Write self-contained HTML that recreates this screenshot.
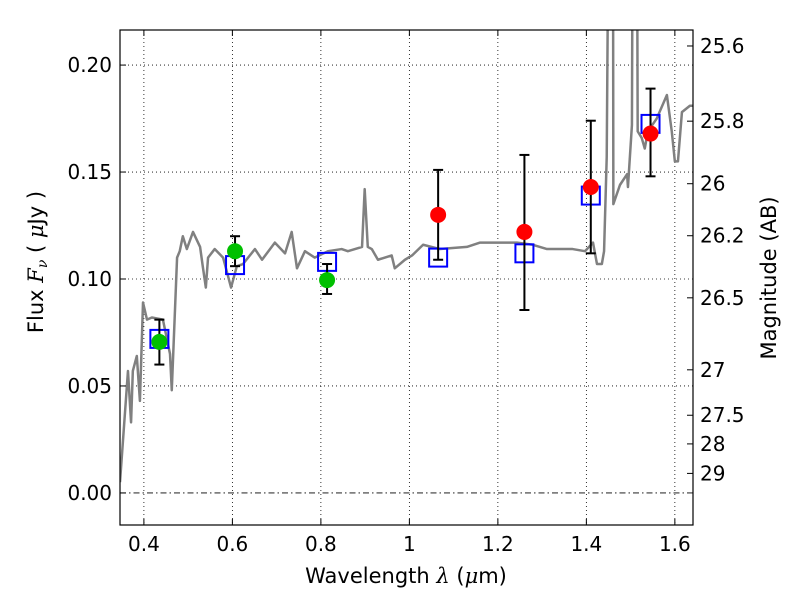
<!DOCTYPE html>
<html><head><meta charset="utf-8"><style>body{margin:0;background:#fff}svg{display:block;font-family:"DejaVu Sans","Liberation Sans",sans-serif}</style></head>
<body>
<svg id="c" width="800" height="600"></svg>
<script>
const specWl=[0.346,0.364,0.371,0.375,0.384,0.391,0.398,0.407,0.418,0.443,0.459,0.463,0.475,0.481,0.488,0.497,0.511,0.527,0.533,0.540,0.545,0.560,0.579,0.597,0.610,0.624,0.651,0.667,0.696,0.719,0.734,0.746,0.764,0.786,0.816,0.847,0.861,0.893,0.899,0.906,0.915,0.929,0.960,0.967,0.990,1.006,1.031,1.069,1.130,1.159,1.205,1.243,1.279,1.311,1.340,1.369,1.397,1.415,1.424,1.435,1.440,1.446,1.451,1.460,1.461,1.476,1.492,1.494,1.503,1.505,1.514,1.516,1.525,1.532,1.539,1.559,1.582,1.593,1.600,1.607,1.616,1.634,1.643];
const specFlux=[0.005,0.057,0.033,0.057,0.064,0.043,0.089,0.081,0.082,0.081,0.065,0.048,0.110,0.113,0.120,0.114,0.122,0.115,0.106,0.096,0.110,0.114,0.110,0.096,0.106,0.107,0.114,0.109,0.117,0.112,0.122,0.105,0.113,0.110,0.113,0.114,0.113,0.115,0.142,0.115,0.114,0.109,0.111,0.105,0.109,0.111,0.116,0.114,0.115,0.117,0.117,0.117,0.116,0.114,0.114,0.114,0.113,0.117,0.107,0.107,0.113,0.157,0.30,0.30,0.135,0.144,0.149,0.143,0.172,0.30,0.30,0.169,0.166,0.161,0.169,0.175,0.186,0.169,0.155,0.155,0.178,0.181,0.181];
const greenWl=[0.435,0.606,0.814];
const greenFlux=[0.0706,0.113,0.0995];
const greenLo=[0.060,0.106,0.093];
const greenHi=[0.081,0.120,0.107];
const redWl=[1.065,1.26,1.41,1.545];
const redFlux=[0.130,0.122,0.143,0.168];
const redLo=[0.109,0.0855,0.112,0.148];
const redHi=[0.151,0.158,0.174,0.189];
const modelWl=[0.435,0.606,0.814,1.065,1.26,1.41,1.545];
const modelFlux=[0.072,0.1065,0.108,0.110,0.112,0.139,0.1725];
const xTicks=[0.4,0.6,0.8,1.0,1.2,1.4,1.6];
const xTickLabels=["0.4","0.6","0.8","1","1.2","1.4","1.6"];
const yTicks=[0,0.05,0.10,0.15,0.20];
const yTickLabels=["0.00","0.05","0.10","0.15","0.20"];
const magTicks=[25.6,25.8,26,26.2,26.5,27,27.5,28,29];
const magLabels=["25.6","25.8","26","26.2","26.5","27","27.5","28","29"];

const L=120,R=693,T=30,B=525;
const xMin=0.346,xMax=1.641,yMin=-0.015,yMax=0.2164;
const sx=v=>L+(v-xMin)/(xMax-xMin)*(R-L);
const sy=v=>B-(v-yMin)/(yMax-yMin)*(B-T);
const NS="http://www.w3.org/2000/svg";
const svg=document.getElementById('c');
function mk(tag,attrs,parent){const e=document.createElementNS(NS,tag);for(const k in attrs)e.setAttribute(k,attrs[k]);(parent||svg).appendChild(e);return e;}
const defs=mk('defs',{});const cp=mk('clipPath',{id:'clip'},defs);mk('rect',{x:L,y:T,width:R-L,height:B-T},cp);

xTicks.forEach((v,i)=>{const g=mk('line',{x1:sx(v),x2:sx(v),y1:T,y2:B,stroke:'#000','stroke-width':0.8,'stroke-dasharray':'1,3'});

});
yTicks.forEach((v,i)=>{if(v===0)return;const g=mk('line',{x1:L,x2:R,y1:sy(v),y2:sy(v),stroke:'#000','stroke-width':0.8,'stroke-dasharray':'1,3'});

});
const z=mk('line',{x1:L,x2:R,y1:sy(0),y2:sy(0),stroke:'#000','stroke-width':0.8,'stroke-dasharray':'6,3,1.5,3'});



const sp=mk('polyline',{points:specWl.map((w,i)=>sx(w)+','+sy(specFlux[i])).join(' '),fill:'none',stroke:'#808080','stroke-width':2.5,'clip-path':'url(#clip)','stroke-linejoin':'round'});



modelWl.forEach((w,i)=>{const r=mk('rect',{x:sx(w)-9,y:sy(modelFlux[i])-9,width:18,height:18,fill:'none',stroke:'#0000ff','stroke-width':2});

});

function pts(wl,f,lo,hi,col,name){wl.forEach((w,i)=>{const x=sx(w);
const e=mk('g',{stroke:'#000','stroke-width':2});


mk('line',{x1:x,x2:x,y1:sy(lo[i]),y2:sy(hi[i])},e);
mk('line',{x1:x-5,x2:x+5,y1:sy(lo[i]),y2:sy(lo[i])},e);
mk('line',{x1:x-5,x2:x+5,y1:sy(hi[i]),y2:sy(hi[i])},e);
const c=mk('circle',{cx:x,cy:sy(f[i]),r:8,fill:col});

});}
pts(greenWl,greenFlux,greenLo,greenHi,'#00c000','hst-photometry');
pts(redWl,redFlux,redLo,redHi,'#ff0000','ir-photometry');

const fr=mk('rect',{x:L,y:T,width:R-L,height:B-T,fill:'none',stroke:'#000','stroke-width':1.2});



xTicks.forEach((v,i)=>{const x=sx(v);mk('line',{x1:x,x2:x,y1:B,y2:B-6,stroke:'#000'});mk('line',{x1:x,x2:x,y1:T,y2:T+6,stroke:'#000'});
const t=mk('text',{x:x,y:B+26,'text-anchor':'middle','font-size':20});t.textContent=xTickLabels[i];

});
yTicks.forEach((v,i)=>{const y=sy(v);mk('line',{x1:L,x2:L+6,y1:y,y2:y,stroke:'#000'});
const t=mk('text',{x:L-8,y:y+7,'text-anchor':'end','font-size':20});t.textContent=yTickLabels[i];

});
magTicks.forEach((m,i)=>{const y=sy(Math.pow(10,(23.9-m)/2.5));mk('line',{x1:R,x2:R-6,y1:y,y2:y,stroke:'#000'});
const t=mk('text',{x:R+7,y:y+7,'font-size':20});t.textContent=magLabels[i];

});
</script>
<svg width="800" height="600" style="position:absolute;left:0;top:0;font-family:'DejaVu Sans',sans-serif">
<text x="406" y="583" text-anchor="middle" font-size="21">Wavelength  <tspan font-style="italic" font-family="DejaVu Serif, serif">λ</tspan> (<tspan font-style="italic" font-family="DejaVu Serif, serif">μ</tspan>m)</text>
<text transform="translate(43,262) rotate(-90)" text-anchor="middle" font-size="21">Flux  <tspan font-style="italic" font-family="DejaVu Serif, serif">F</tspan><tspan font-style="italic" font-family="DejaVu Serif, serif" font-size="14" dy="4">ν</tspan><tspan dy="-4">  ( </tspan><tspan font-style="italic" font-family="DejaVu Serif, serif">μ</tspan>Jy )</text>
<text transform="translate(776,278) rotate(-90)" text-anchor="middle" font-size="21">Magnitude (AB)</text>
</svg>
</body></html>
